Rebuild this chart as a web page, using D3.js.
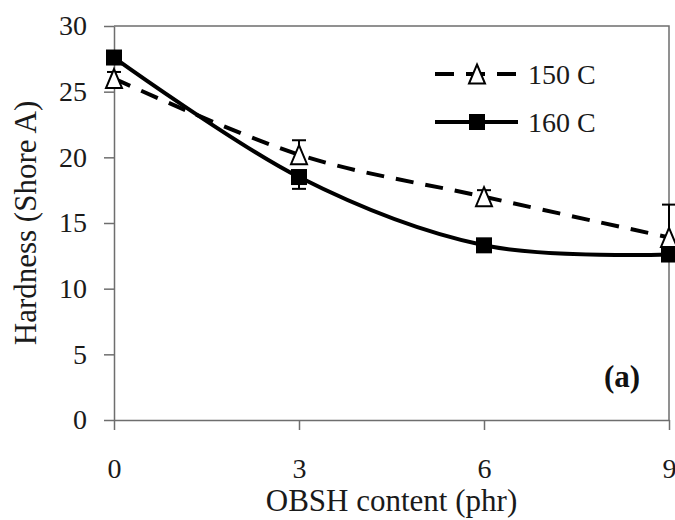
<!DOCTYPE html>
<html>
<head>
<meta charset="utf-8">
<script src="https://cdn.jsdelivr.net/npm/d3@7"></script>
<style>
  body { margin: 0; background: #fff; }
</style>
</head>
<body>
<svg id="chart" width="675" height="520"></svg>
<script>
// data
const contentPhr = [0, 3, 6, 9];
const hardness150 = [26.0, 20.2, 17.0, 13.9];
const error150 = [0.5, 1.1, 0.5, 2.5];
const hardness160 = [27.6, 18.5, 13.3, 12.6];
const error160 = [0.4, 0.9, 0.3, 0.3];
const xTicks = [0, 3, 6, 9];
const yTicks = [0, 5, 10, 15, 20, 25, 30];
const seriesNames = ["150 C", "160 C"];

const serif = "'Liberation Serif', 'Times New Roman', serif";

function init() {
    const svg = d3.select("#chart");
    const margin = { left: 114, right: 6, top: 26, bottom: 100 };
    const width = 675, height = 520;
    const axisColor = "#6e6e6e";

    const x = d3.scaleLinear().domain([0, 9]).range([margin.left, width - margin.right]);
    const y = d3.scaleLinear().domain([0, 30]).range([height - margin.bottom, margin.top]);

    // box top + right
    svg.append("path")
        .attr("d", `M${x(0)},${y(30)}H${x(9)}V${y(0)}`)
        .attr("fill", "none")
        .attr("stroke", axisColor)
        .attr("stroke-width", 1.5);

    const yAxis = svg.append("g")
        .attr("transform", `translate(${x(0)},0)`)
        .call(d3.axisLeft(y).tickValues(yTicks).tickSize(10).tickSizeOuter(0).tickPadding(17));
    const xAxis = svg.append("g")
        .attr("transform", `translate(0,${y(0)})`)
        .call(d3.axisBottom(x).tickValues(xTicks).tickSize(10).tickSizeOuter(0).tickPadding(28));

    [xAxis, yAxis].forEach(g => {
        g.attr("font-family", serif);
        g.selectAll("path, line").attr("stroke", axisColor).attr("stroke-width", 1.5);
        g.selectAll("text")
            .attr("fill", "#1a1a1a")
            .style("font-size", "28px")
            .style("font-family", serif);
    });

    // axis titles
    svg.append("text")
        .attr("x", (x(0) + x(9)) / 2)
        .attr("y", 511)
        .attr("text-anchor", "middle")
        .attr("fill", "#1a1a1a")
        .style("font-family", serif)
        .style("font-size", "31px")
        .text("OBSH content (phr)");

    svg.append("text")
        .attr("transform", `translate(36,${(y(0) + y(30)) / 2}) rotate(-90)`)
        .attr("text-anchor", "middle")
        .attr("fill", "#1a1a1a")
        .style("font-family", serif)
        .style("font-size", "31px")
        .text("Hardness (Shore A)");

    const line = d3.line()
        .x(d => x(d.x))
        .y(d => y(d.y))
        .curve(d3.curveCardinal);

    const tri = (w, h) => `M0,${-h / 2}L${w / 2},${h / 2}L${-w / 2},${h / 2}Z`;

    // dir: +1 draws the bar upward only, -1 downward only
    const drawSeries = (values, errors, dashed, marker, dir) => {
        const pts = contentPhr.map((c, i) => ({ x: c, y: values[i], e: errors[i] }));

        svg.append("path")
            .datum(pts)
            .attr("d", line)
            .attr("fill", "none")
            .attr("stroke", "#000")
            .attr("stroke-width", 4)
            .attr("stroke-dasharray", dashed ? "18,12" : null);

        // error bars
        const eb = svg.append("g").attr("stroke", "#000").attr("stroke-width", 2);
        pts.forEach(p => {
            const end = p.y + dir * p.e;
            eb.append("line")
                .attr("x1", x(p.x)).attr("x2", x(p.x))
                .attr("y1", y(p.y)).attr("y2", y(end));
            eb.append("line")
                .attr("x1", x(p.x) - 7).attr("x2", x(p.x) + 7)
                .attr("y1", y(end)).attr("y2", y(end));
        });

        if (marker === "square") {
            svg.selectAll(null)
                .data(pts)
                .enter()
                .append("rect")
                .attr("x", d => x(d.x) - 8)
                .attr("y", d => y(d.y) - 8)
                .attr("width", 16)
                .attr("height", 16)
                .attr("fill", "#000");
        } else {
            svg.selectAll(null)
                .data(pts)
                .enter()
                .append("path")
                .attr("d", tri(16, 19))
                .attr("transform", d => `translate(${x(d.x)},${y(d.y)})`)
                .attr("fill", "#fff")
                .attr("stroke", "#000")
                .attr("stroke-width", 2);
        }
    };

    drawSeries(hardness150, error150, true, "triangle", 1);
    drawSeries(hardness160, error160, false, "square", -1);

    //legend
    const legend = svg.append("g");
    const legendRows = [
        { name: seriesNames[0], y: 74, dashed: true },
        { name: seriesNames[1], y: 122, dashed: false }
    ];
    legendRows.forEach(r => {
        legend.append("line")
            .attr("x1", 435).attr("x2", 518)
            .attr("y1", r.y).attr("y2", r.y)
            .attr("stroke", "#000")
            .attr("stroke-width", 4)
            .attr("stroke-dasharray", r.dashed ? "19,12" : null);
        if (r.dashed) {
            legend.append("path")
                .attr("d", tri(16, 19))
                .attr("transform", `translate(477,${r.y})`)
                .attr("fill", "#fff")
                .attr("stroke", "#000")
                .attr("stroke-width", 2);
        } else {
            legend.append("rect")
                .attr("x", 469).attr("y", r.y - 8)
                .attr("width", 16).attr("height", 16)
                .attr("fill", "#000");
        }
        legend.append("text")
            .attr("x", 528)
            .attr("y", r.y + 10)
            .attr("fill", "#1a1a1a")
            .style("font-family", serif)
            .style("font-size", "28px")
            .text(r.name);
    });

    // panel label
    svg.append("text")
        .attr("x", 622)
        .attr("y", 387)
        .attr("text-anchor", "middle")
        .attr("fill", "#111")
        .style("font-family", serif)
        .style("font-size", "31px")
        .style("font-weight", "bold")
        .text("(a)");
}

window.onload = init;
</script>
</body>
</html>
